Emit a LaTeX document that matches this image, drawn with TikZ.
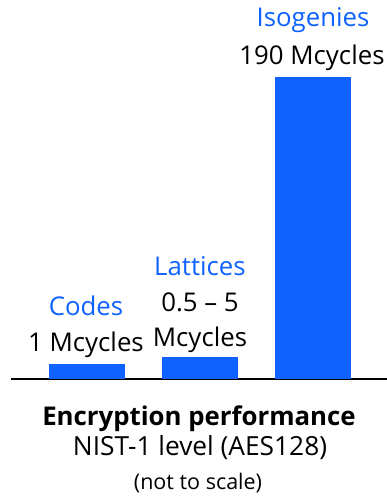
\documentclass[tikz,border=0pt]{standalone}
\usepackage{fontspec}
\setmainfont{Open Sans}
\definecolor{ibmblue}{HTML}{0F62FE}
\begin{document}
\begin{tikzpicture}[x=1pt,y=-1pt,
  bar/.style={fill=ibmblue,draw=none},
  lbl/.style={anchor=base,inner sep=0pt,font=\fontsize{25.8}{28}\selectfont},
  cat/.style={lbl,text=ibmblue},
  ttl/.style={anchor=base,inner sep=0pt,font=\fontsize{25.8}{28}\selectfont\bfseries},
  sub/.style={anchor=base,inner sep=0pt,font=\fontsize{26.3}{28}\selectfont},
  note/.style={anchor=base,inner sep=0pt,font=\fontsize{21.5}{24}\selectfont}]
\useasboundingbox (0,0) rectangle (387,503);
\coordinate (axl) at (11,379);
\coordinate (axr) at (387,379);
\draw[line width=1.5pt] (axl) -- (axr);
\fill[bar] (49,364) rectangle (125,379);
\fill[bar] (162,357) rectangle (238,379);
\fill[bar] (275,77) rectangle (351,379);
\node[cat] (codes) at (86,315) {Codes};
\node[lbl] (c1) at (86,351.5) {1 Mcycles};
\node[cat] (lat) at (200,275) {Lattices};
\node[lbl] (l1) at (200,311.5) {0.5 – 5};
\node[lbl] (l2) at (200,346) {Mcycles};
\node[cat] (iso) at (313,26.5) {Isogenies};
\node[lbl] (i1) at (312,65) {190 Mcycles};
\node[ttl] (t1) at (199,425) {Encryption performance};
\node[sub] (t2) at (200,455) {NIST-1 level (AES128)};
\node[note] (t3) at (198,489) {(not to scale)};
\end{tikzpicture}
\end{document}
